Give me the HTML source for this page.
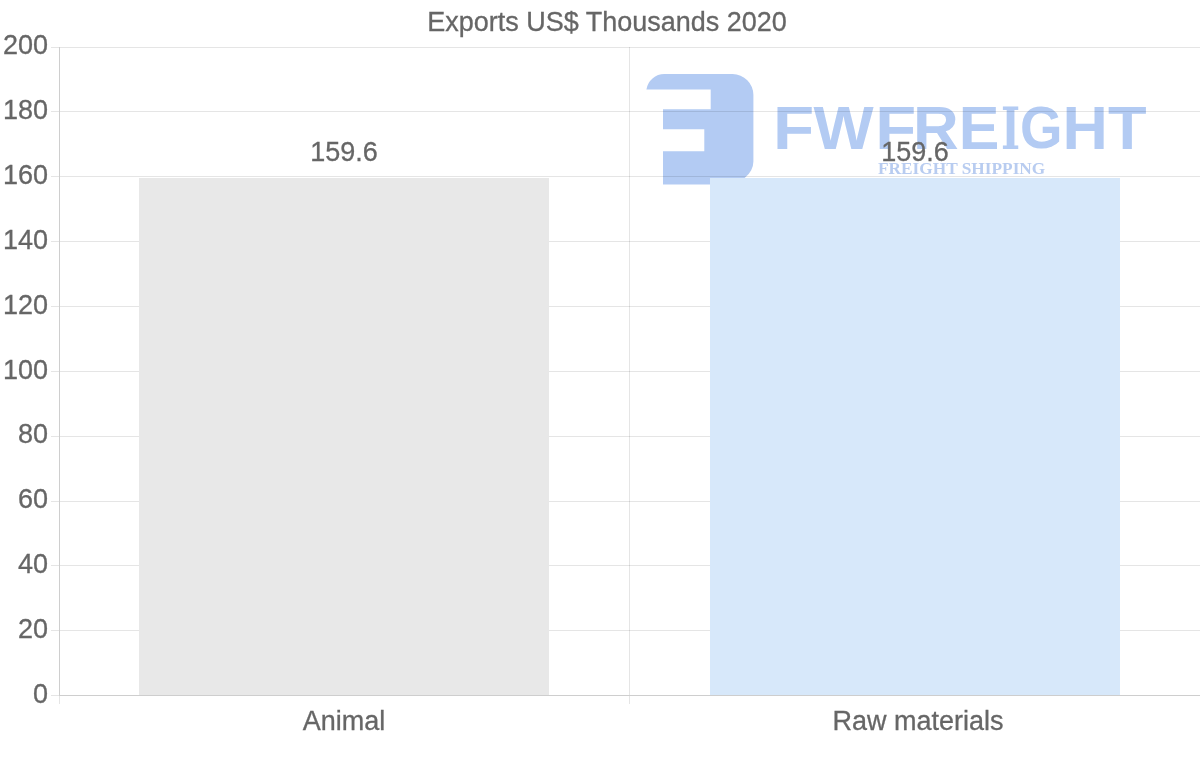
<!DOCTYPE html>
<html lang="en"><head><meta charset="utf-8"><title>Exports US$ Thousands 2020</title>
<style>
html,body{margin:0;padding:0;background:#fff;}
body{width:1200px;height:763px;overflow:hidden;}
svg{display:block;}
.t{font-family:"Liberation Sans",Arial,sans-serif;font-size:27px;fill:#666;stroke:#666;stroke-width:0.3px;}
</style></head><body>
<svg width="1200" height="763" viewBox="0 0 1200 763">
<rect width="1200" height="763" fill="#fff"/>
<g id="logo">
<path fill="#b3cbf3" d="M646.4 89.6 A18.2 18 0 0 1 664.5 74.1 L732.6 74.1 A20.8 20.7 0 0 1 753.4 94.8 L753.4 161.5 A29 23 0 0 1 724.4 184.5 L663 184.5 L663 151.2 L704.3 151.2 L704.3 129.2 L663 129.2 L663 109.2 L710.7 109.2 L710.7 89.6 Z"/>
<text style="font-family:'Liberation Sans',Arial,sans-serif;font-weight:bold;fill:#b3cbf3"><tspan x="772.99" y="148.70" textLength="41.18" lengthAdjust="spacingAndGlyphs" style="font-size:60.18px">F</tspan><tspan x="813.64" y="148.70" textLength="60.12" lengthAdjust="spacingAndGlyphs" style="font-size:60.18px">W</tspan><tspan x="875.22" y="148.70" textLength="40.94" lengthAdjust="spacingAndGlyphs" style="font-size:60.18px">F</tspan><tspan x="912.96" y="148.70" textLength="45.74" lengthAdjust="spacingAndGlyphs" style="font-size:60.18px">R</tspan><tspan x="958.72" y="148.70" textLength="40.66" lengthAdjust="spacingAndGlyphs" style="font-size:60.18px">E</tspan><tspan x="1000.89" y="148.70" textLength="19.09" lengthAdjust="spacingAndGlyphs" style="font-family:'DejaVu Serif',serif;font-size:57.48px">I</tspan><tspan x="1020.06" y="148.42" textLength="42.53" lengthAdjust="spacingAndGlyphs" style="font-size:59.32px">G</tspan><tspan x="1062.60" y="148.70" textLength="45.33" lengthAdjust="spacingAndGlyphs" style="font-size:60.18px">H</tspan><tspan x="1108.09" y="148.70" textLength="38.59" lengthAdjust="spacingAndGlyphs" style="font-size:60.18px">T</tspan></text>
<text x="878" y="174.2" textLength="167.3" lengthAdjust="spacingAndGlyphs" style="font-family:'Liberation Serif','Times New Roman',serif;font-weight:bold;font-size:16.8px;fill:#b8ccf0">FREIGHT SHIPPING</text>
</g>
<g fill="#000" fill-opacity="0.1" shape-rendering="crispEdges">
<rect x="51" y="47" width="1149" height="1"/>
<rect x="51" y="111" width="1149" height="1"/>
<rect x="51" y="176" width="1149" height="1"/>
<rect x="51" y="241" width="1149" height="1"/>
<rect x="51" y="306" width="1149" height="1"/>
<rect x="51" y="371" width="1149" height="1"/>
<rect x="51" y="436" width="1149" height="1"/>
<rect x="51" y="501" width="1149" height="1"/>
<rect x="51" y="565" width="1149" height="1"/>
<rect x="51" y="630" width="1149" height="1"/>
<rect x="51" y="695" width="8" height="1"/>
<rect x="629" y="47" width="1" height="657"/>
<rect x="59" y="696" width="1" height="8"/>
</g>
<g fill="#cecece" shape-rendering="crispEdges">
<rect x="59" y="47" width="1" height="648"/>
<rect x="59" y="695" width="1141" height="1"/>
</g>
<rect x="139" y="178" width="410" height="517" fill="#e8e8e8"/>
<rect x="710" y="178" width="410" height="517" fill="#d7e8fa"/>
<g class="t">
<text x="607" y="31" text-anchor="middle">Exports US$ Thousands 2020</text>
<text x="48" y="54.0" text-anchor="end">200</text>
<text x="48" y="119.0" text-anchor="end">180</text>
<text x="48" y="184.0" text-anchor="end">160</text>
<text x="48" y="249.0" text-anchor="end">140</text>
<text x="48" y="314.0" text-anchor="end">120</text>
<text x="48" y="379.0" text-anchor="end">100</text>
<text x="48" y="443.0" text-anchor="end">80</text>
<text x="48" y="508.0" text-anchor="end">60</text>
<text x="48" y="573.0" text-anchor="end">40</text>
<text x="48" y="638.0" text-anchor="end">20</text>
<text x="48" y="703.0" text-anchor="end">0</text>
<text x="344" y="160.7" text-anchor="middle">159.6</text>
<text x="915" y="160.7" text-anchor="middle">159.6</text>
<text x="344" y="730" text-anchor="middle">Animal</text>
<text x="918" y="730" text-anchor="middle">Raw materials</text>
</g>
</svg>
</body></html>
